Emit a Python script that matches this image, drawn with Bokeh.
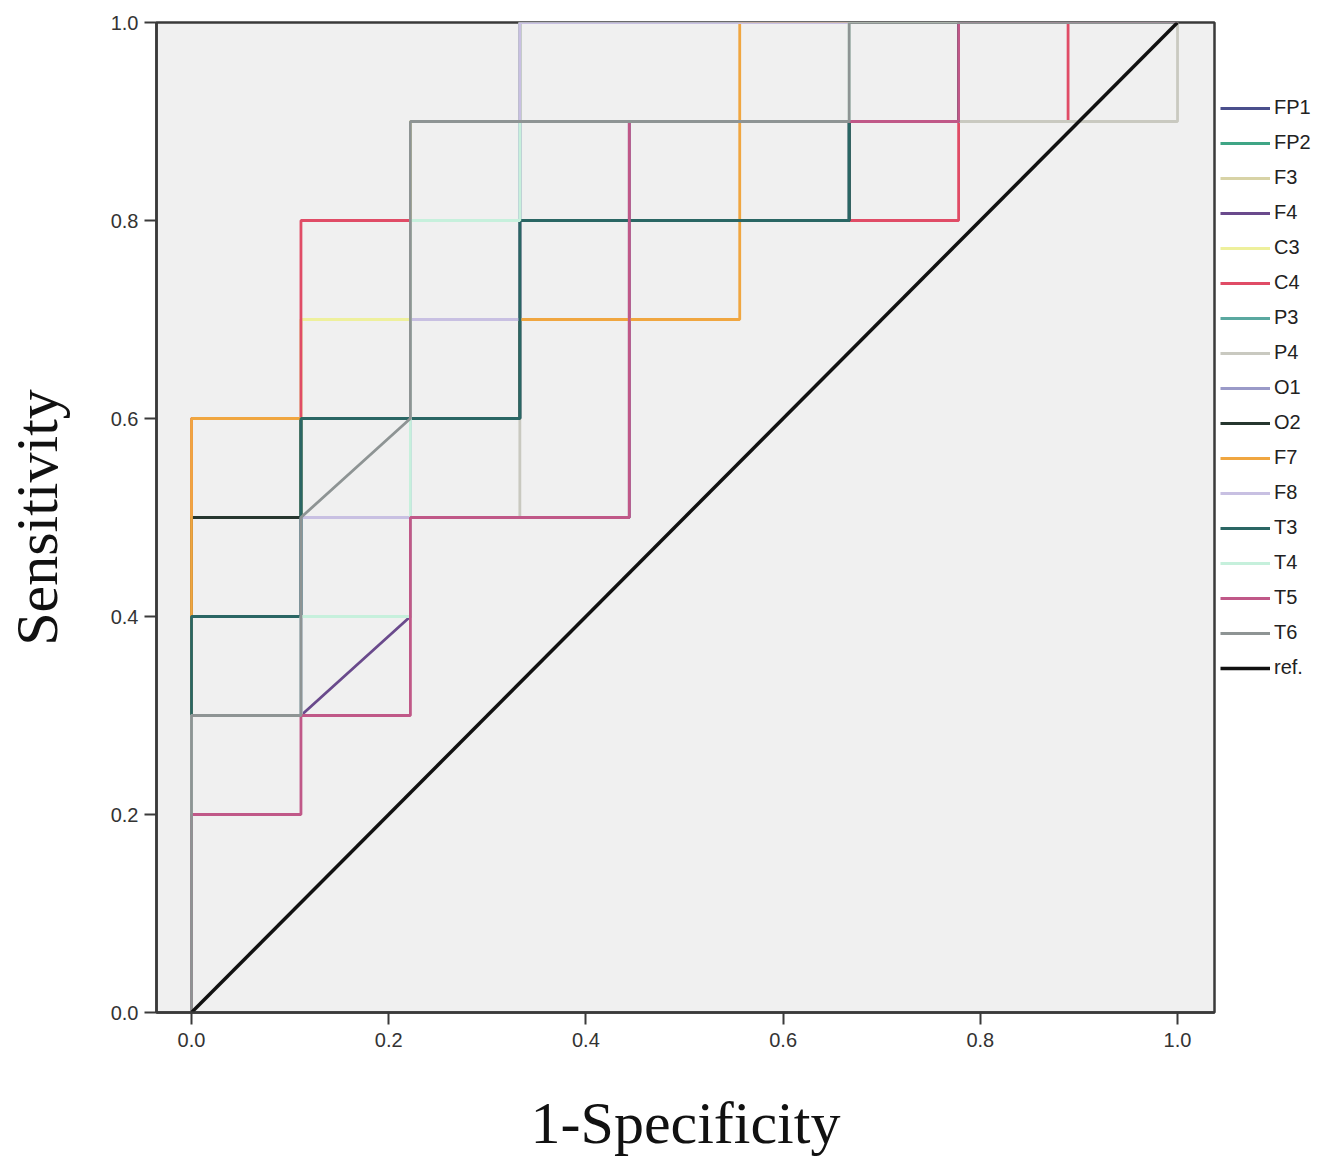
from bokeh.plotting import figure
from bokeh.models import Legend, LegendItem, Range1d, FixedTicker, CustomJSTickFormatter
from bokeh.embed import file_html
from bokeh.resources import INLINE

# ROC curves per EEG channel: false-positive rate (1-specificity) vs sensitivity
fpr_FP1 = [0.0, 0.0, 0.111, 0.111, 0.333, 0.333, 0.667, 0.667, 0.778, 0.778, 1.0]
tpr_FP1 = [0.0, 0.5, 0.5, 0.6, 0.6, 0.8, 0.8, 0.9, 0.9, 1.0, 1.0]

fpr_FP2 = [0.0, 0.0, 0.111, 0.111, 0.222, 0.222, 0.333, 0.333, 1.0]
tpr_FP2 = [0.0, 0.4, 0.4, 0.6, 0.6, 0.8, 0.8, 1.0, 1.0]

fpr_F3 = [0.0, 0.0, 0.111, 0.111, 0.222, 0.222, 0.333, 0.333, 1.0]
tpr_F3 = [0.0, 0.5, 0.5, 0.7, 0.7, 0.9, 0.9, 1.0, 1.0]

fpr_F4 = [0.0, 0.0, 0.111, 0.222, 0.222, 0.444, 0.444, 0.778, 0.778, 1.0]
tpr_F4 = [0.0, 0.3, 0.3, 0.4, 0.5, 0.5, 0.9, 0.9, 1.0, 1.0]

fpr_C3 = [0.0, 0.0, 0.111, 0.111, 0.222, 0.222, 0.333, 0.333, 1.0]
tpr_C3 = [0.0, 0.5, 0.5, 0.7, 0.7, 0.9, 0.9, 1.0, 1.0]

fpr_C4 = [0.0, 0.0, 0.111, 0.111, 0.778, 0.778, 0.889, 0.889, 1.0]
tpr_C4 = [0.0, 0.6, 0.6, 0.8, 0.8, 0.9, 0.9, 1.0, 1.0]

fpr_P3 = [0.0, 0.0, 0.111, 0.111, 0.333, 0.333, 0.667, 0.667, 0.778, 0.778, 1.0]
tpr_P3 = [0.0, 0.4, 0.4, 0.6, 0.6, 0.8, 0.8, 0.9, 0.9, 1.0, 1.0]

fpr_P4 = [0.0, 0.0, 0.111, 0.111, 0.333, 0.333, 1.0, 1.0]
tpr_P4 = [0.0, 0.3, 0.3, 0.5, 0.5, 0.9, 0.9, 1.0]

fpr_O1 = [0.0, 0.0, 0.111, 0.111, 0.222, 0.222, 0.333, 0.333, 1.0]
tpr_O1 = [0.0, 0.3, 0.3, 0.5, 0.5, 0.7, 0.7, 1.0, 1.0]

fpr_O2 = [0.0, 0.0, 0.111, 0.111, 0.333, 0.333, 0.667, 0.667, 0.778, 0.778, 1.0]
tpr_O2 = [0.0, 0.5, 0.5, 0.6, 0.6, 0.8, 0.8, 0.9, 0.9, 1.0, 1.0]

fpr_F7 = [0.0, 0.0, 0.222, 0.222, 0.556, 0.556, 1.0]
tpr_F7 = [0.0, 0.6, 0.6, 0.7, 0.7, 1.0, 1.0]

fpr_F8 = [0.0, 0.0, 0.111, 0.111, 0.222, 0.222, 0.333, 0.333, 1.0]
tpr_F8 = [0.0, 0.3, 0.3, 0.5, 0.5, 0.7, 0.7, 1.0, 1.0]

fpr_T3 = [0.0, 0.0, 0.111, 0.111, 0.333, 0.333, 0.667, 0.667, 0.778, 0.778, 1.0]
tpr_T3 = [0.0, 0.4, 0.4, 0.6, 0.6, 0.8, 0.8, 0.9, 0.9, 1.0, 1.0]

fpr_T4 = [0.0, 0.0, 0.111, 0.111, 0.222, 0.222, 0.333, 0.333, 0.667, 0.667, 1.0]
tpr_T4 = [0.0, 0.3, 0.3, 0.4, 0.4, 0.8, 0.8, 0.9, 0.9, 1.0, 1.0]

fpr_T5 = [0.0, 0.0, 0.111, 0.111, 0.222, 0.222, 0.444, 0.444, 0.778, 0.778, 1.0]
tpr_T5 = [0.0, 0.2, 0.2, 0.3, 0.3, 0.5, 0.5, 0.9, 0.9, 1.0, 1.0]

fpr_T6 = [0.0, 0.0, 0.111, 0.111, 0.222, 0.222, 0.667, 0.667, 1.0]
tpr_T6 = [0.0, 0.3, 0.3, 0.5, 0.6, 0.9, 0.9, 1.0, 1.0]

fpr_ref = [0.0, 1.0]
tpr_ref = [0.0, 1.0]

channels = ["FP1", "FP2", "F3", "F4", "C3", "C4", "P3", "P4",
            "O1", "O2", "F7", "F8", "T3", "T4", "T5", "T6", "ref."]
fpr_list = [fpr_FP1, fpr_FP2, fpr_F3, fpr_F4, fpr_C3, fpr_C4, fpr_P3, fpr_P4,
            fpr_O1, fpr_O2, fpr_F7, fpr_F8, fpr_T3, fpr_T4, fpr_T5, fpr_T6, fpr_ref]
tpr_list = [tpr_FP1, tpr_FP2, tpr_F3, tpr_F4, tpr_C3, tpr_C4, tpr_P3, tpr_P4,
            tpr_O1, tpr_O2, tpr_F7, tpr_F8, tpr_T3, tpr_T4, tpr_T5, tpr_T6, tpr_ref]
colors = ["#4a4f8c", "#3fa585", "#d8d3a6", "#6a4a8c", "#eef09c", "#e04c66",
          "#5aa8a0", "#c9c9c0", "#9a9ac8", "#26362e", "#f0a640", "#c8c0e2",
          "#2a6664", "#c6f0dc", "#c05888", "#8e9494", "#111111"]
ticks = [0.0, 0.2, 0.4, 0.6, 0.8, 1.0]

p = figure(frame_width=1058, frame_height=990,
           x_range=Range1d(-0.0355, 1.0375), y_range=Range1d(0.0, 1.0),
           output_backend="svg", toolbar_location=None,
           min_border_left=155, min_border_top=22, min_border_bottom=147,
           min_border_right=0)
p.background_fill_color = "#f0f0f0"
p.border_fill_color = "white"
p.grid.visible = False
p.outline_line_color = "#3a3a3a"
p.outline_line_width = 2.5

items = []
for name, xs, ys, c in zip(channels, fpr_list, tpr_list, colors):
    lw = 3.5 if name == "ref." else 2.8
    r = p.line(xs, ys, line_color=c, line_width=lw)
    items.append(LegendItem(label=name, renderers=[r]))

fmt = CustomJSTickFormatter(code="return tick.toFixed(1);")
for ax in (p.xaxis, p.yaxis):
    ax.ticker = FixedTicker(ticks=ticks)
    ax.formatter = fmt
    ax.axis_line_color = "#3a3a3a"
    ax.axis_line_width = 2.5
    ax.major_tick_line_color = "#3a3a3a"
    ax.major_tick_line_width = 2
    ax.major_tick_in = 0
    ax.major_tick_out = 12
    ax.minor_tick_line_color = None
    ax.major_label_text_font = "Liberation Sans"
    ax.major_label_text_font_size = "20px"
    ax.major_label_text_color = "#333333"
    ax.axis_label_text_font = "Liberation Serif"
    ax.axis_label_text_font_style = "normal"
    ax.axis_label_text_font_size = "60px"
    ax.axis_label_text_color = "#111111"

p.xaxis.axis_label = "1-Specificity"
p.yaxis.axis_label = "Sensitivity"
p.xaxis.major_label_standoff = 8
p.yaxis.major_label_standoff = 6
p.xaxis.axis_label_standoff = 40
p.yaxis.axis_label_standoff = 38

legend = Legend(items=items, location=(6, 333), orientation="vertical")
legend.border_line_color = None
legend.background_fill_alpha = 0
legend.margin = 2
legend.padding = 4
legend.spacing = 12
legend.glyph_width = 50
legend.glyph_height = 20
legend.label_height = 20
legend.label_standoff = 4
legend.label_text_font = "Liberation Sans"
legend.label_text_font_size = "20px"
legend.label_text_color = "#222222"
p.add_layout(legend, "right")

open("out.html", "w").write(file_html(p, INLINE))
